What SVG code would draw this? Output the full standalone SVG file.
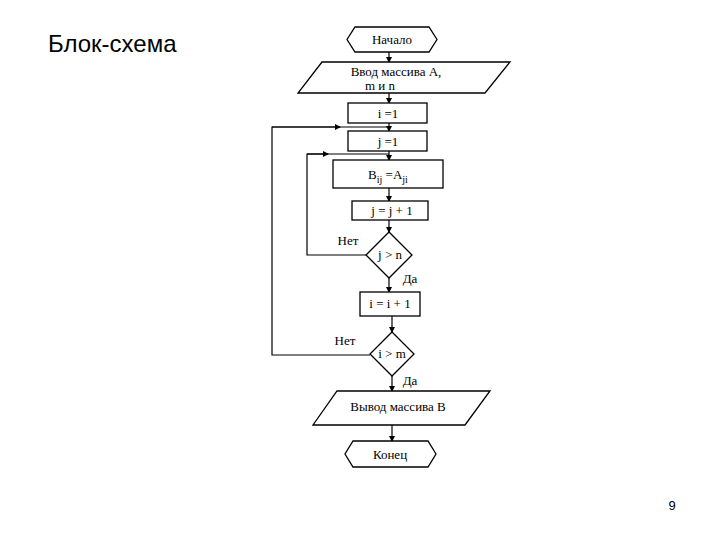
<svg xmlns="http://www.w3.org/2000/svg" width="720" height="540" viewBox="0 0 720 540">
<defs>
<marker id="a" markerWidth="6" markerHeight="6" refX="5" refY="3" orient="auto" markerUnits="userSpaceOnUse"><path d="M0,0 L6,3 L0,6 Z" fill="#000"/></marker>
<style>
.s{fill:#fff;stroke:#000;stroke-width:1.3}
.t{font-family:"Liberation Serif",serif;font-size:13px;fill:#000;text-anchor:middle}
.l{fill:none;stroke:#000;stroke-width:1.2}
</style>
</defs>
<rect width="720" height="540" fill="#fff"/>
<text x="48" y="52" font-family="Liberation Sans,Arial,sans-serif" font-size="24">Блок-схема</text>
<text x="672" y="510" font-family="Liberation Sans,Arial,sans-serif" font-size="13" text-anchor="middle">9</text>
<g id="connectors">
<path class="l" d="M389,52 V62" marker-end="url(#a)"/>
<path class="l" d="M389,93 V103" marker-end="url(#a)"/>
<path class="l" d="M389,123 V131" marker-end="url(#a)"/>
<path class="l" d="M389,151 V160" marker-end="url(#a)"/>
<path class="l" d="M389,188 V201" marker-end="url(#a)"/>
<path class="l" d="M389,220 V232" marker-end="url(#a)"/>
<path class="l" d="M389,278 V292" marker-end="url(#a)"/>
<path class="l" d="M392,316 V332" marker-end="url(#a)"/>
<path class="l" d="M392,376 V391" marker-end="url(#a)"/>
<path class="l" d="M392,425 V441" marker-end="url(#a)"/>
<path class="l" d="M366,255 H307 V154 H389"/>
<path class="l" d="M307,154 H328" marker-end="url(#a)"/>
<path class="l" d="M370,355 H272 V127 H389"/>
<path class="l" d="M272,127 H340" marker-end="url(#a)"/>
</g>
<g id="start"><path class="s" d="M355,27 H429 L437,39.5 L429,52 H355 L347,39.5 Z"/><text class="t" x="392" y="44">Начало</text></g>
<g id="input"><path class="s" d="M322,62 H510 L485,93 H298 Z"/><text class="t" x="396" y="76">Ввод массива А,</text><text class="t" x="380" y="90">m и n</text></g>
<g id="i1"><rect class="s" x="348" y="103" width="79" height="20"/><text class="t" x="388" y="118">i =1</text></g>
<g id="j1"><rect class="s" x="348" y="131" width="79" height="20"/><text class="t" x="388" y="146">j =1</text></g>
<g id="bij"><rect class="s" x="333" y="160" width="110" height="28"/><text class="t" x="388" y="179">B<tspan font-size="10" dy="4">ij</tspan><tspan dy="-4"> =A</tspan><tspan font-size="10" dy="4">ji</tspan></text></g>
<g id="jinc"><rect class="s" x="352" y="201" width="76" height="19"/><text class="t" x="392" y="215">j = j + 1</text></g>
<g id="d1"><path class="s" d="M389,232 L412,255 L389,278 L366,255 Z"/><text class="t" x="390" y="259">j &gt; n</text><text class="t" x="348" y="245">Нет</text><text class="t" x="410" y="283">Да</text></g>
<g id="iinc"><rect class="s" x="360" y="292" width="60" height="24"/><text class="t" x="390" y="308">i = i + 1</text></g>
<g id="d2"><path class="s" d="M392,332 L414,354 L392,376 L370,354 Z"/><text class="t" x="392" y="358">i &gt; m</text><text class="t" x="345" y="345">Нет</text><text class="t" x="410" y="385">Да</text></g>
<g id="output"><path class="s" d="M337,391 H490 L465,425 H313 Z"/><text class="t" x="398" y="411">Вывод массива B</text></g>
<g id="end"><path class="s" d="M353,441 H428 L436,454 L428,467 H353 L345,454 Z"/><text class="t" x="390" y="459">Конец</text></g>
</svg>
